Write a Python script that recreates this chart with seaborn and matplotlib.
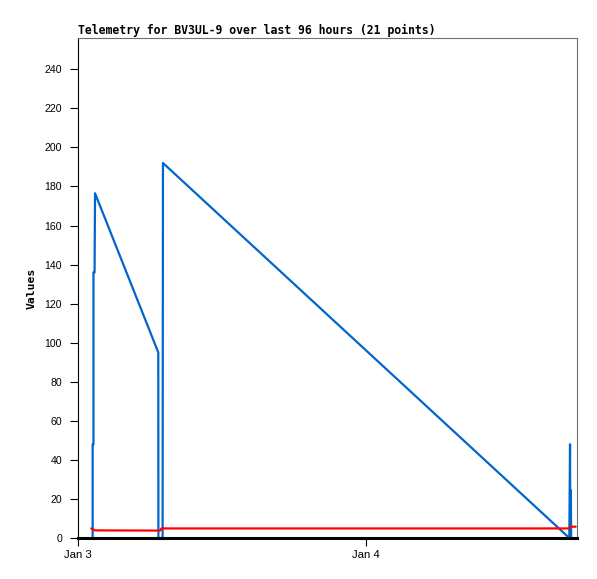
import numpy as np
import pandas as pd
import matplotlib
matplotlib.use("Agg")
import matplotlib.pyplot as plt
import matplotlib.dates as mdates
import seaborn as sns

sns.set_theme(style="white")
plt.rcParams['font.family'] = ['Liberation Sans', 'DejaVu Sans']
plt.rcParams['text.color'] = 'black'
plt.rcParams['axes.labelcolor'] = 'black'

# hours since Jan 3 00:00
blue_hours = [1.22, 1.22, 1.29, 1.29, 1.38, 1.42, 6.69, 6.70, 7.05, 7.08, 40.94, 41.00, 41.02, 41.05, 41.07, 41.09]
blue_vals  = [0.0, 48.0, 48.0, 136.0, 136.0, 176.5, 95.0, 0.0, 0.0, 192.0, 0.0, 48.0, 0.0, 0.0, 24.5, 0.0]
red_hours = [1.11, 1.42, 6.83, 6.96, 40.90, 41.00, 41.47]
red_vals  = [4.9, 3.9, 3.8, 4.9, 4.9, 5.8, 5.8]

x_ticks = ["Jan 3", "Jan 4"]
y_ticks = list(range(0, 241, 20))
title = "Telemetry for BV3UL-9 over last 96 hours (21 points)"

base = pd.Timestamp("2024-01-03 00:00")
blue_df = pd.DataFrame({"time": base + pd.to_timedelta(blue_hours, unit="h"), "value": blue_vals})
red_df = pd.DataFrame({"time": base + pd.to_timedelta(red_hours, unit="h"), "value": red_vals})

fig = plt.figure(figsize=(5.97, 5.79), dpi=100)
ax = fig.add_axes([78/597, 1-538/579, (577-78)/597, (538-38)/579])

sns.lineplot(data=blue_df, x="time", y="value", ax=ax, color="#0066CC", linewidth=1.6,
             estimator=None, sort=False)
sns.lineplot(data=red_df, x="time", y="value", ax=ax, color="#FF0000", linewidth=1.6,
             estimator=None, sort=False)

ax.set_xlim(base, base + pd.Timedelta(hours=41.58))
ax.set_ylim(0, 256)
ax.set_yticks(y_ticks)
ax.set_yticklabels([str(v) for v in y_ticks])
ax.set_xticks([base, base + pd.Timedelta(days=1)])
ax.set_xticklabels(x_ticks)

ax.tick_params(axis="y", which="major", direction="out", length=5.5, width=0.8,
               color="black", labelsize=7.6, labelcolor="black", left=True, pad=6)
ax.tick_params(axis="x", which="major", direction="out", length=5.5, width=0.8,
               color="black", labelsize=8.2, labelcolor="black", bottom=True, pad=3)

for s in ["top", "right"]:
    ax.spines[s].set_color("#707070")
    ax.spines[s].set_linewidth(0.8)
ax.spines["left"].set_color("black")
ax.spines["left"].set_linewidth(0.8)
ax.spines["bottom"].set_color("black")
ax.spines["bottom"].set_linewidth(2.2)

ax.set_xlabel("")
ax.set_ylabel("Values", fontsize=8.2, fontweight="bold", family="DejaVu Sans Mono", labelpad=6,
              color="black")
ax.text(0, 1.003, title, transform=ax.transAxes, ha="left", va="bottom", color="black",
        fontsize=8.3, fontweight="bold", family="DejaVu Sans Mono")

fig.savefig("out.png", dpi=100, facecolor="white")
